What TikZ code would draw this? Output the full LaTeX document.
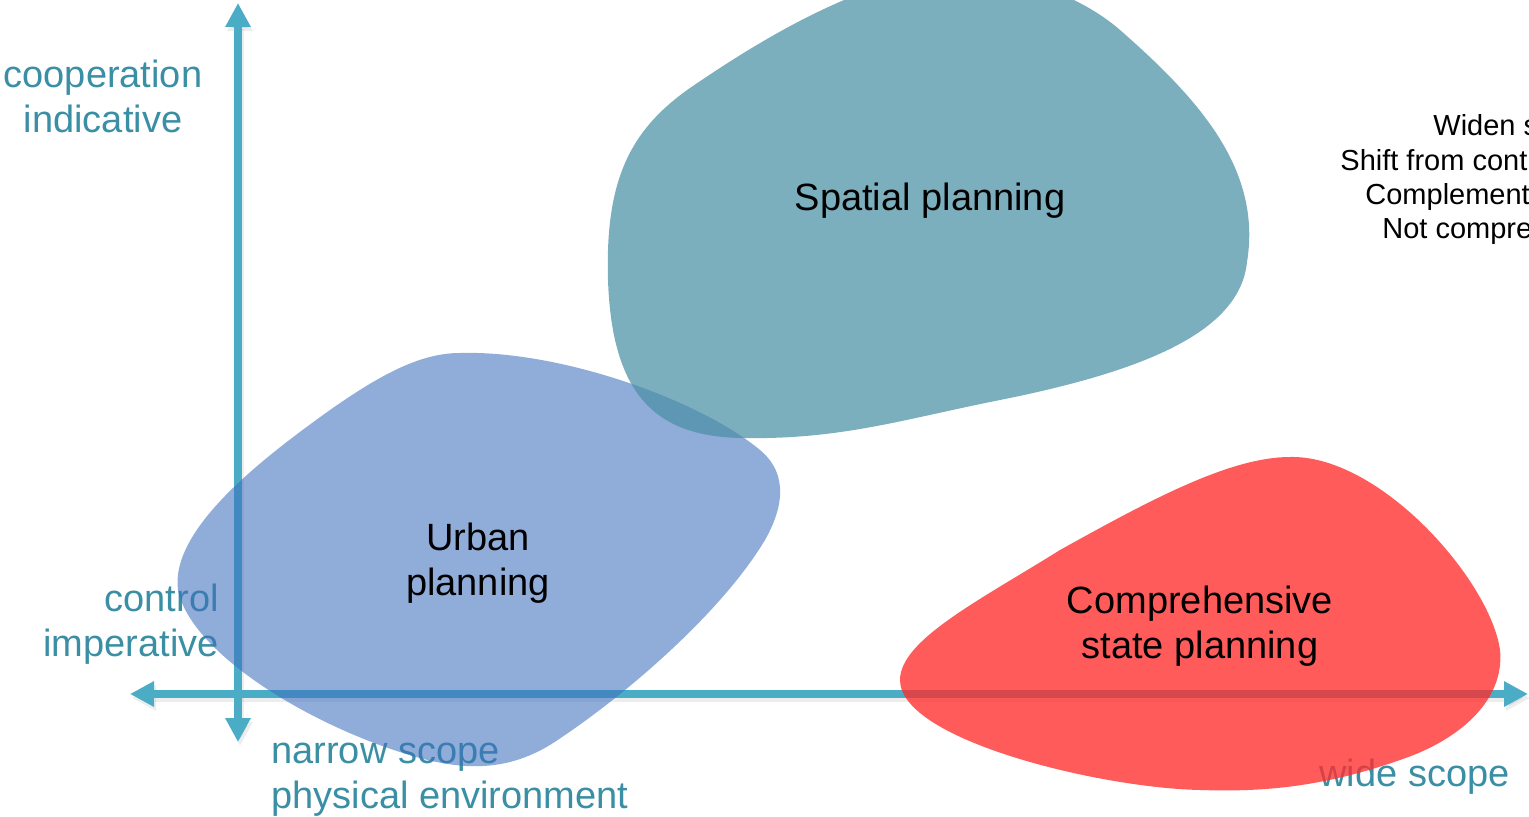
\documentclass[tikz,border=0pt]{standalone}
\usepackage{fontspec}
\setmainfont{Liberation Sans}
\usepackage{xcolor}
\usepackage{tikz}
\usetikzlibrary{arrows.meta, positioning}

\definecolor{axisteal}{RGB}{75,172,198}
\definecolor{labelteal}{RGB}{58,143,165}
\definecolor{spatialfill}{RGB}{74,144,164}
\definecolor{urbanfill}{RGB}{60,110,190}
\definecolor{statefill}{RGB}{255,45,45}

\begin{document}
\begin{tikzpicture}[x=0.5pt, y=-0.5pt,
  axis/.style={line width=4pt, draw=axisteal, {Triangle[width=12pt,length=12pt]}-{Triangle[width=12pt,length=12pt]}},
  axisshadow/.style={line width=4pt, draw=black, opacity=0.07, {Triangle[width=12pt,length=12pt]}-{Triangle[width=12pt,length=12pt]}},
  axislabel/.style={text=labelteal, font=\fontsize{19}{22.5}\selectfont, inner sep=0pt},
  bloblabel/.style={font=\fontsize{19}{22.5}\selectfont, align=center, inner sep=0pt},
  note/.style={font=\fontsize{14.5}{17}\selectfont, anchor=base west, inner sep=0pt}]
\useasboundingbox (0,0) rectangle (1529,817);
\clip (0,0) rectangle (1529,817);

% axes
\coordinate (ytop) at (238,3);
\coordinate (ybottom) at (238,742);
\coordinate (xleft) at (130,694);
\coordinate (xright) at (1528,694);
\draw[axisshadow, transform canvas={shift={(1pt,-2pt)}}] (ybottom) -- (ytop);
\draw[axisshadow, transform canvas={shift={(1pt,-2pt)}}] (xleft) -- (xright);
\draw[axis] (ybottom) -- (ytop);
\draw[axis] (xleft) -- (xright);

% axis labels
\node[axislabel, align=center] (coop) at (103,96) {cooperation\\indicative};
\node[axislabel, align=right, anchor=east] (control) at (219,624) {control\\imperative};
\node[axislabel, align=left, anchor=west] (narrow) at (271,780) {narrow scope\\physical environment};
\node[axislabel, anchor=west] (wide) at (1319,777) {wide scope};

% blobs
\fill[urbanfill, fill opacity=0.57]
  (460,353) .. controls (560,350) and (700,400) .. (760,450)
  .. controls (790,475) and (782,510) .. (765,540)
  .. controls (720,615) and (620,700) .. (550,745)
  .. controls (505,772) and (460,772) .. (400,752)
  .. controls (300,720) and (190,650) .. (178,590)
  .. controls (170,530) and (260,460) .. (330,410)
  .. controls (380,375) and (420,353) .. (460,353) -- cycle;
\fill[spatialfill, fill opacity=0.72]
  (608,280) .. controls (605,180) and (630,130) .. (690,88)
  .. controls (760,40) and (830,0) .. (900,-20)
  .. controls (1000,-40) and (1080,-5) .. (1120,30)
  .. controls (1200,100) and (1262,170) .. (1247,262)
  .. controls (1240,330) and (1150,370) .. (1000,400)
  .. controls (900,420) and (840,440) .. (740,438)
  .. controls (660,436) and (612,400) .. (608,280) -- cycle;
\fill[statefill, fill opacity=0.78]
  (1290,457) .. controls (1380,455) and (1490,580) .. (1500,650)
  .. controls (1505,700) and (1460,740) .. (1400,760)
  .. controls (1320,788) and (1260,792) .. (1200,790)
  .. controls (1100,788) and (900,740) .. (900,680)
  .. controls (900,640) and (980,600) .. (1060,550)
  .. controls (1150,500) and (1230,457) .. (1290,457) -- cycle;

% blob labels
\node[bloblabel] (spatial) at (930,201) {Spatial planning};
\node[bloblabel] (urban) at (478,563) {Urban\\planning};
\node[bloblabel] (state) at (1200,626) {Comprehensive\\state planning};

% notes, cut by the right edge
\node[note] (widen) at (1433,136) {Widen s};
\node[note] (shift) at (1340,171) {Shift from cont};
\node[note] (compl) at (1365,205) {Complement};
\node[note] (notcomp) at (1382,239) {Not compre};
\end{tikzpicture}
\end{document}
